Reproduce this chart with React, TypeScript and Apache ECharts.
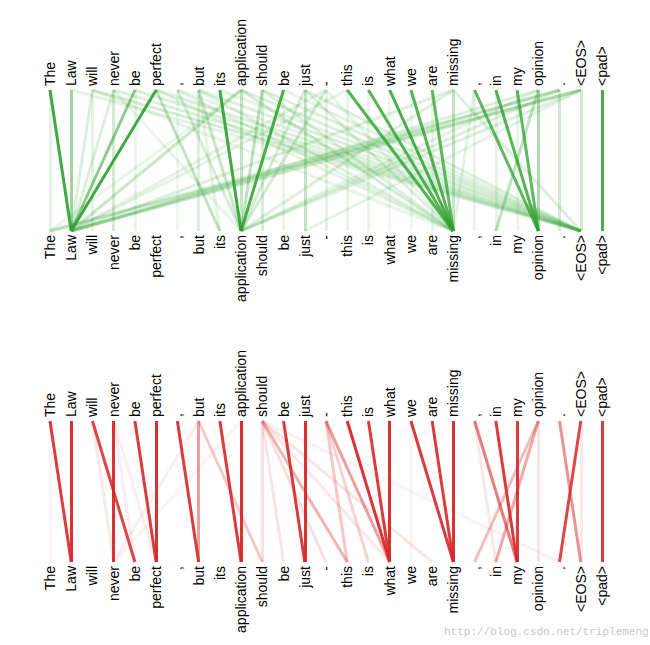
import React, { useEffect, useRef } from "react";
import * as echarts from "echarts";

const tokens = [
  "The", "Law", "will", "never", "be", "perfect", ",", "but", "its", "application",
  "should", "be", "just", "-", "this", "is", "what", "we", "are", "missing",
  ",", "in", "my", "opinion", ".", "<EOS>", "<pad>",
];

// [from top token, to bottom token, attention weight]
const greenLinks: [number, number, number][] = [
  [0, 1, 0.9], [0, 0, 0.12],
  [1, 1, 0.45], [1, 25, 0.12],
  [2, 1, 0.16], [2, 2, 0.12], [2, 25, 0.2], [2, 19, 0.1],
  [3, 3, 0.22], [3, 1, 0.16], [3, 25, 0.16], [3, 9, 0.1],
  [4, 1, 0.55], [4, 25, 0.16], [4, 4, 0.1],
  [5, 1, 0.9], [5, 8, 0.3], [5, 25, 0.16], [5, 19, 0.12],
  [6, 9, 0.2], [6, 19, 0.12], [6, 6, 0.08], [6, 25, 0.1],
  [7, 9, 0.25], [7, 7, 0.16], [7, 25, 0.16], [7, 19, 0.15], [7, 8, 0.12],
  [8, 9, 0.9], [8, 25, 0.12],
  [9, 9, 0.28], [9, 1, 0.25], [9, 19, 0.2], [9, 25, 0.16], [9, 0, 0.1],
  [10, 9, 0.3], [10, 10, 0.18], [10, 19, 0.16], [10, 25, 0.16],
  [11, 9, 0.85], [11, 25, 0.12], [11, 11, 0.1],
  [12, 12, 0.28], [12, 9, 0.2], [12, 19, 0.16], [12, 25, 0.16],
  [13, 9, 0.2], [13, 13, 0.12], [13, 1, 0.12], [13, 19, 0.1],
  [14, 19, 0.8], [14, 14, 0.1], [14, 1, 0.12],
  [15, 19, 0.8], [15, 15, 0.1],
  [16, 19, 0.85], [16, 16, 0.08],
  [17, 19, 0.8], [17, 17, 0.08],
  [18, 19, 0.75], [18, 18, 0.1],
  [19, 19, 0.28], [19, 1, 0.16], [19, 9, 0.16], [19, 25, 0.16],
  [20, 23, 0.75], [20, 20, 0.1], [20, 19, 0.12],
  [21, 23, 0.8], [21, 21, 0.12],
  [22, 23, 0.75], [22, 22, 0.1],
  [23, 23, 0.38], [23, 21, 0.3], [23, 1, 0.16], [23, 9, 0.12],
  [24, 24, 0.22], [24, 1, 0.25], [24, 0, 0.16], [24, 9, 0.16],
  [25, 25, 0.22], [25, 1, 0.25], [25, 0, 0.2], [25, 9, 0.16], [25, 12, 0.12],
  [26, 26, 0.85],
];

const redLinks: [number, number, number][] = [
  [0, 1, 0.9], [0, 0, 0.05],
  [1, 1, 0.95],
  [2, 4, 0.85], [2, 3, 0.1],
  [3, 3, 0.95], [3, 4, 0.08], [3, 5, 0.08],
  [4, 5, 0.9],
  [5, 5, 0.95],
  [6, 7, 0.9],
  [7, 7, 0.45], [7, 10, 0.25], [7, 3, 0.08],
  [8, 9, 0.9],
  [9, 9, 0.95], [9, 3, 0.06],
  [10, 10, 0.15], [10, 11, 0.12], [10, 14, 0.35], [10, 18, 0.12], [10, 13, 0.15], [10, 16, 0.1], [10, 24, 0.06],
  [11, 12, 0.9],
  [12, 12, 0.95],
  [13, 16, 0.45], [13, 14, 0.25], [13, 15, 0.2],
  [14, 16, 0.95],
  [15, 16, 0.9],
  [16, 16, 0.95],
  [17, 19, 0.9], [17, 17, 0.05],
  [18, 19, 0.9],
  [19, 19, 0.95],
  [20, 22, 0.6], [20, 21, 0.1],
  [21, 22, 0.9],
  [22, 22, 0.9],
  [23, 20, 0.3], [23, 21, 0.4], [23, 23, 0.12],
  [24, 25, 0.5],
  [25, 24, 0.85], [25, 25, 0.1],
  [26, 26, 0.9],
];

const GREEN = "#2ca02c";
const RED = "#d62728";

function linkData(links: [number, number, number][]) {
  return [...links]
    .sort((a, b) => a[2] - b[2])
    .map(([s, t, w]) => ({
      coords: [[s, 1], [t, 0]],
      lineStyle: { opacity: w },
    }));
}

function xAxisFor(gridIndex: number, position: "top" | "bottom") {
  return {
    type: "value" as const,
    gridIndex,
    position,
    min: 0,
    max: tokens.length - 1,
    interval: 1,
    axisLine: { show: false },
    axisTick: { show: false },
    splitLine: { show: false },
    axisLabel: {
      rotate: 90,
      margin: 4,
      fontSize: 14,
      color: "#000",
      fontFamily: "Liberation Sans, Arial, sans-serif",
      formatter: (v: number) => tokens[Math.round(v)] ?? "",
    },
  };
}

export default function App() {
  const ref = useRef<HTMLDivElement>(null);
  useEffect(() => {
    if (!ref.current) return;
    const chart = echarts.init(ref.current, null, { renderer: "svg" });
    chart.setOption({
      animation: false,
      backgroundColor: "#fff",
      grid: [
        { left: 50, right: 48, top: 90, height: 141 },
        { left: 50, right: 48, top: 421, height: 141 },
      ],
      xAxis: [
        xAxisFor(0, "top"),
        xAxisFor(0, "bottom"),
        xAxisFor(1, "top"),
        xAxisFor(1, "bottom"),
      ],
      yAxis: [
        { type: "value", gridIndex: 0, min: 0, max: 1, show: false },
        { type: "value", gridIndex: 1, min: 0, max: 1, show: false },
      ],
      series: [
        {
          type: "lines",
          coordinateSystem: "cartesian2d",
          xAxisIndex: 0,
          yAxisIndex: 0,
          silent: true,
          lineStyle: { color: GREEN, width: 3, curveness: 0 },
          data: linkData(greenLinks),
        },
        {
          type: "lines",
          coordinateSystem: "cartesian2d",
          xAxisIndex: 2,
          yAxisIndex: 1,
          silent: true,
          lineStyle: { color: RED, width: 3, curveness: 0 },
          data: linkData(redLinks),
        },
      ],
      graphic: [
        {
          type: "text",
          left: 444,
          top: 626,
          style: {
            text: "http://blog.csdn.net/triplemeng",
            fill: "#c8c8c8",
            font: '11px "Liberation Mono", monospace',
          },
        },
      ],
    });
    return () => chart.dispose();
  }, []);
  return (
    <div
      ref={ref}
      style={{ position: "absolute", left: 0, top: 0, width: 650, height: 645 }}
    />
  );
}
